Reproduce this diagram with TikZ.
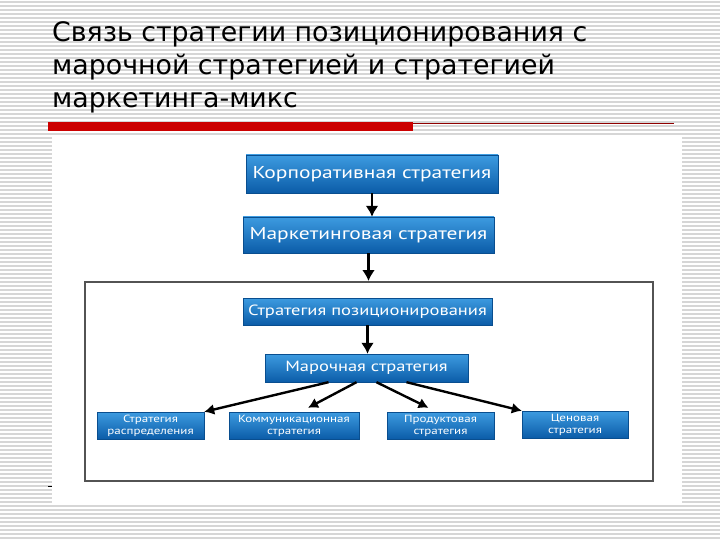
\documentclass[tikz,border=0pt]{standalone}
\usepackage{fontspec}
\setmainfont{DejaVu Sans}
\newfontfamily\boxfont[FakeStretch=1.25]{PT Sans}
\usepackage{tikz}
\usetikzlibrary{arrows.meta,positioning}
\tikzset{
  stratarrow/.style={-{Latex[length=11pt,width=13pt]}, line width=2.6pt, draw=black},
  fanarrow/.style={stratarrow, -{Latex[length=10pt,width=11pt]}, line width=2.4pt},
  stripe/.style={draw=SlideStripe, line width=1.5pt}
}
\definecolor{StratTop}{HTML}{3D9BE0}
\definecolor{StratBottom}{HTML}{0B5CA8}
\definecolor{SlideRed}{HTML}{CC0000}
\definecolor{SlideStripe}{HTML}{D6D6D6}

\begin{document}
\begin{tikzpicture}[
  x=1pt, y=-1pt,
  stratbox/.style={draw=StratBottom!85!black, line width=0.4pt, top color=StratTop,
    bottom color=StratBottom, text=white, align=center, inner sep=0pt},
  bigtext/.style={font=\boxfont\fontsize{17.2}{19}\selectfont},
  midtext/.style={font=\boxfont\fontsize{14.8}{16}\selectfont},
  smalltext/.style={font=\boxfont\fontsize{10.4}{12}\selectfont}
]
\useasboundingbox (0,0) rectangle (720,540);
% lined slide background
\fill[white] (0,0) rectangle (720,540);
\foreach \ry in {2,6,...,538} \draw[stripe] (0,\ry) -- (720,\ry);

\node[anchor=base west, align=left, inner sep=0pt,
  font=\fontsize{26.8}{33}\selectfont] (title) at (52,108)
  {Связь стратегии позиционирования с\\марочной стратегией и стратегией\\маркетинга-микс};

% red rule under the title
\fill[SlideRed] (48,122) rectangle (413,131);
\draw[SlideRed!70!black, line width=0.9pt] (413,123.5) -- (674,123.5);
\draw[black, line width=1pt] (48,486) -- (54,486);

% picture area
\fill[white] (52,135) rectangle (682,503);
\node[draw=gray!65!black, line width=2pt, minimum width=568pt, minimum height=199pt,
  inner sep=0pt] (frame) at (369,381.5) {};

\node[stratbox, bigtext, minimum width=252pt, minimum height=38pt] (corp) at (372,174) {Корпоративная стратегия};
\node[stratbox, bigtext, minimum width=251pt, minimum height=36pt] (mark) at (368.5,235) {Маркетинговая стратегия};
\node[stratbox, midtext, minimum width=249pt, minimum height=27pt] (pos) at (367.5,311.5) {Стратегия позиционирования};
\node[stratbox, midtext, minimum width=203pt, minimum height=28pt] (brand) at (366.5,368) {Марочная стратегия};
\node[stratbox, smalltext, minimum width=107pt, minimum height=27pt] (dist) at (150.5,425.5) {Стратегия\\распределения};
\node[stratbox, smalltext, minimum width=130pt, minimum height=27pt] (comm) at (294,425.5) {Коммуникационная\\стратегия};
\node[stratbox, smalltext, minimum width=107pt, minimum height=27pt] (prod) at (440.5,425.5) {Продуктовая\\стратегия};
\node[stratbox, smalltext, minimum width=106pt, minimum height=27pt] (price) at (575,424.5) {Ценовая\\стратегия};

\draw[stratarrow] (corp.south) -- (corp.south |- mark.north);
\draw[stratarrow] (mark.south) -- (mark.south |- frame.north);
\draw[stratarrow] (pos.south) -- (pos.south |- brand.north);
% brand strategy fans out to the four mix strategies
\draw[fanarrow] ([xshift=-38pt]brand.south) -- (dist.north east);
\draw[fanarrow] ([xshift=-10pt]brand.south) -- ([xshift=14pt,yshift=4pt]comm.north);
\draw[fanarrow] ([xshift=10pt]brand.south) -- ([xshift=-12pt,yshift=4pt]prod.north);
\draw[fanarrow] ([xshift=40pt]brand.south) -- (price.north west);
\end{tikzpicture}
\end{document}
